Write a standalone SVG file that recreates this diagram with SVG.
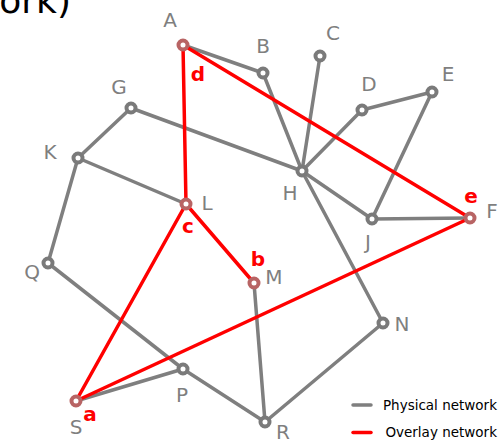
<svg xmlns="http://www.w3.org/2000/svg" width="502" height="441" viewBox="0 0 502 441">
  <style>
    .phys { stroke: #7f7f7f; stroke-width: 3.5; stroke-linecap: round; fill: none; }
    .over { stroke: #ff0000; stroke-width: 3.5; stroke-linecap: round; fill: none; }
    .node { fill: #ffffff; stroke: #7a7a7a; stroke-width: 4; }
    .onode { fill: #ffffff; stroke: #b86464; stroke-width: 4; }
    .lbl { font-family: "DejaVu Sans", "Open Sans", sans-serif; font-size: 20px; fill: #7f7f7f; text-anchor: middle; }
    .olbl { font-family: "DejaVu Sans", "Open Sans", sans-serif; font-size: 20px; font-weight: bold; fill: #ff0000; text-anchor: middle; }
    .legend { font-family: "DejaVu Sans", "Open Sans", sans-serif; font-size: 13.5px; fill: #000000; text-anchor: end; }
  </style>

  <!-- clipped heading -->
  <text x="71" y="13" font-family="'DejaVu Sans', 'Open Sans', sans-serif" font-size="36" fill="#000000" text-anchor="end">ork)</text>

  <g id="connectors">
    <g id="physical-links">
      <line class="phys" x1="183" y1="45" x2="263" y2="73"/>
      <line class="phys" x1="263" y1="73" x2="302" y2="171"/>
      <line class="phys" x1="320" y1="56" x2="302" y2="171"/>
      <line class="phys" x1="131" y1="108" x2="302" y2="171"/>
      <line class="phys" x1="362" y1="110" x2="302" y2="171"/>
      <line class="phys" x1="362" y1="110" x2="432" y2="92"/>
      <line class="phys" x1="432" y1="92" x2="372" y2="219"/>
      <line class="phys" x1="302" y1="171" x2="372" y2="219"/>
      <line class="phys" x1="372" y1="219" x2="470" y2="218"/>
      <line class="phys" x1="302" y1="171" x2="383" y2="323"/>
      <line class="phys" x1="383" y1="323" x2="265" y2="422"/>
      <line class="phys" x1="78" y1="158" x2="131" y2="108"/>
      <line class="phys" x1="78" y1="158" x2="186" y2="204"/>
      <line class="phys" x1="78" y1="158" x2="48" y2="263"/>
      <line class="phys" x1="48" y1="263" x2="183" y2="369"/>
      <line class="phys" x1="183" y1="369" x2="76" y2="401"/>
      <line class="phys" x1="183" y1="369" x2="265" y2="422"/>
      <line class="phys" x1="254" y1="283" x2="265" y2="422"/>
    </g>
    <g id="overlay-links">
      <line class="over" x1="183" y1="45" x2="186" y2="204"/>
      <line class="over" x1="183" y1="45" x2="470" y2="218"/>
      <line class="over" x1="186" y1="204" x2="76" y2="401"/>
      <line class="over" x1="186" y1="204" x2="254" y2="283"/>
      <line class="over" x1="76" y1="401" x2="470" y2="218"/>
    </g>
  </g>

  <g id="node-A"><circle class="onode" cx="183" cy="45" r="4.5"/><text class="lbl" x="170" y="27">A</text><text class="olbl" x="198" y="81">d</text></g>
  <g id="node-B"><circle class="node" cx="263" cy="73" r="4.5"/><text class="lbl" x="263" y="53">B</text></g>
  <g id="node-C"><circle class="node" cx="320" cy="56" r="4.5"/><text class="lbl" x="333" y="40">C</text></g>
  <g id="node-D"><circle class="node" cx="362" cy="110" r="4.5"/><text class="lbl" x="369" y="91">D</text></g>
  <g id="node-E"><circle class="node" cx="432" cy="92" r="4.5"/><text class="lbl" x="448" y="81">E</text></g>
  <g id="node-F"><circle class="onode" cx="470" cy="218" r="4.5"/><text class="lbl" x="492" y="218">F</text><text class="olbl" x="471" y="203">e</text></g>
  <g id="node-G"><circle class="node" cx="131" cy="108" r="4.5"/><text class="lbl" x="119" y="94">G</text></g>
  <g id="node-H"><circle class="node" cx="302" cy="171" r="4.5"/><text class="lbl" x="290" y="200">H</text></g>
  <g id="node-J"><circle class="node" cx="372" cy="219" r="4.5"/><text class="lbl" x="368" y="249">J</text></g>
  <g id="node-K"><circle class="node" cx="78" cy="158" r="4.5"/><text class="lbl" x="50" y="159">K</text></g>
  <g id="node-L"><circle class="onode" cx="186" cy="204" r="4.5"/><text class="lbl" x="207" y="210">L</text><text class="olbl" x="188" y="233">c</text></g>
  <g id="node-M"><circle class="onode" cx="254" cy="283" r="4.5"/><text class="lbl" x="274" y="284">M</text><text class="olbl" x="258" y="266">b</text></g>
  <g id="node-N"><circle class="node" cx="383" cy="323" r="4.5"/><text class="lbl" x="402" y="331">N</text></g>
  <g id="node-P"><circle class="node" cx="183" cy="369" r="4.5"/><text class="lbl" x="182" y="402">P</text></g>
  <g id="node-Q"><circle class="node" cx="48" cy="263" r="4.5"/><text class="lbl" x="32" y="279">Q</text></g>
  <g id="node-R"><circle class="node" cx="265" cy="422" r="4.5"/><text class="lbl" x="283" y="439">R</text></g>
  <g id="node-S"><circle class="onode" cx="76" cy="401" r="4.5"/><text class="lbl" x="76" y="434">S</text><text class="olbl" x="90" y="421">a</text></g>

  <g id="legend">
    <line class="phys" x1="353" y1="405" x2="371" y2="405" stroke-linecap="butt"/>
    <text class="legend" x="497" y="410">Physical network</text>
    <line class="over" x1="353" y1="432.5" x2="371" y2="432.5" stroke-linecap="butt"/>
    <text class="legend" x="497" y="437">Overlay network</text>
  </g>
</svg>
